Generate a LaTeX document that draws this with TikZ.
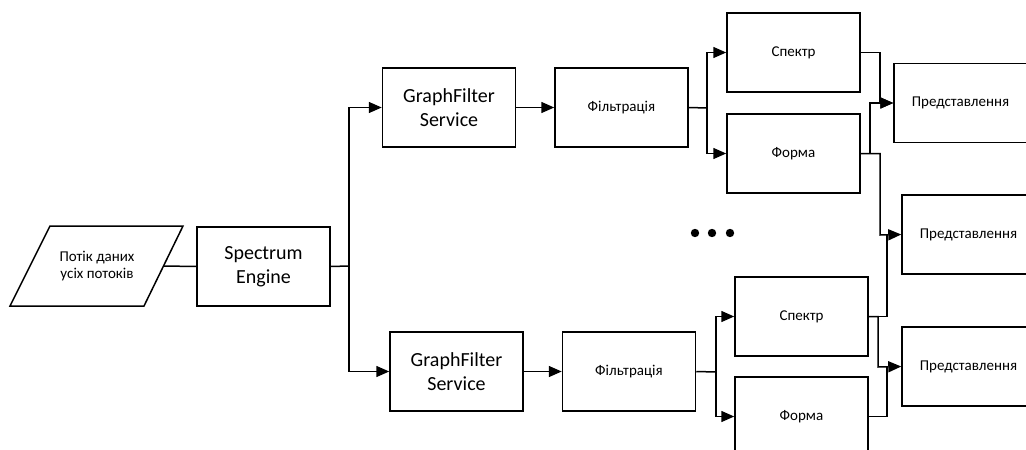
\documentclass[tikz,border=0pt]{standalone}
\usepackage{fontspec}
\setmainfont{Carlito}
\usetikzlibrary{arrows.meta}
\begin{document}
\begin{tikzpicture}[x=1pt,y=-1pt,
  box/.style={draw, line width=1.5pt, minimum width=133pt, minimum height=79pt, inner sep=0pt, align=center},
  big/.style={font=\fontsize{20}{24}\selectfont},
  small/.style={font=\fontsize{15}{17.5}\selectfont},
  conn/.style={line width=1.5pt},
  arr/.style={conn, -{Triangle[length=13pt,width=11pt]}}]
\useasboundingbox (0,0) rectangle (1026,450);
\clip (0,0) rectangle (1026,450);
% input parallelogram
\draw[line width=1.5pt] (50,226) -- (183,226) -- (144,306) -- (10,306) -- cycle;
\node[small, align=center] (in) at (97,266) {Потік даних\\усіх потоків};
\coordinate (inR) at (163.5,266);
% boxes
\node[box, big] (SE) at (263.5,266.5) {Spectrum\\Engine};
\node[box, big] (GF1) at (449,107.5) {GraphFilter\\Service};
\node[box, small] (F1) at (621.5,107.5) {Фільтрація};
\node[box, small] (S1) at (793.5,52.5) {Спектр};
\node[box, small] (Fo1) at (793.5,153.5) {Форма};
\node[box, small] (P1) at (960.5,103) {Представлення};
\node[box, small] (P2) at (968.5,234.5) {Представлення};
\node[box, big] (GF2) at (456.5,371.5) {GraphFilter\\Service};
\node[box, small] (F2) at (629,371.5) {Фільтрація};
\node[box, small] (S2) at (801.5,316.5) {Спектр};
\node[box, small] (Fo2) at (801.5,416.5) {Форма};
\node[box, small] (P3) at (968.5,366.5) {Представлення};
% junction coordinates
\coordinate (J0) at (349,266);
\coordinate (J1) at (707,108);
\coordinate (J2) at (716,372);
\coordinate (A1) at (880,103);
\coordinate (B1) at (870,103);
\coordinate (C1) at (880,235);
\coordinate (D2) at (887,235);
\coordinate (A2) at (878,367);
\coordinate (B2) at (887,367);
% connectors
\draw[conn] (inR) -- (SE.west);
\draw[conn] (SE.east) -- (J0);
\draw[arr] (J0) |- (GF1.west);
\draw[arr] (J0) |- (GF2.west);
\draw[arr] (GF1.east) -- (F1.west);
\draw[arr] (GF2.east) -- (F2.west);
\draw[conn] (F1.east) -- (J1);
\draw[arr] (J1) |- (S1.west);
\draw[arr] (J1) |- (Fo1.west);
\draw[conn] (F2.east) -- (J2);
\draw[arr] (J2) |- (S2.west);
\draw[arr] (J2) |- (Fo2.west);
\draw[arr] (S1.east) -| (A1) -- (P1.west);
\draw[arr] (Fo1.east) -| (B1) -- (P1.west);
\draw[arr] (Fo1.east) -| (C1) -- (P2.west);
\draw[conn] (S2.east) -| (D2);
\draw[arr] (S2.east) -| (A2) -- (P3.west);
\draw[conn] (Fo2.east) -| (B2);
% dots
\fill (695,233) circle (4.2);
\fill (712,233) circle (4.2);
\fill (730,233) circle (4.2);
\end{tikzpicture}
\end{document}
